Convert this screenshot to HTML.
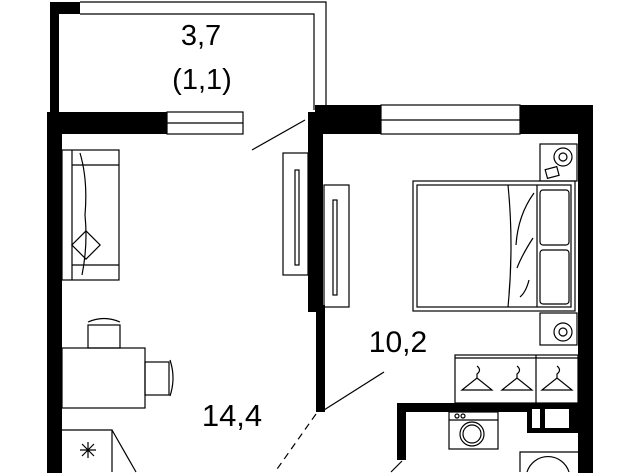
<!DOCTYPE html><html><head><style>html,body{margin:0;padding:0;background:#fff;width:640px;height:473px;overflow:hidden}svg{display:block;overflow:hidden}</style></head><body>
<svg width="640" height="473" viewBox="0 0 640 473" xmlns="http://www.w3.org/2000/svg" font-family="Liberation Sans, sans-serif">
<rect width="640" height="473" fill="#fff"/>
<g fill="#000">
<rect x="50" y="2" width="30" height="12"/>
<rect x="50" y="2" width="9" height="112"/>
<rect x="47" y="112" width="120" height="22"/>
<rect x="47" y="112" width="15" height="361"/>
<rect x="308" y="112" width="15" height="200"/>
<rect x="316" y="305" width="9" height="107"/>
<rect x="315" y="105" width="66" height="29"/>
<rect x="520" y="105" width="73" height="29"/>
<rect x="578" y="105" width="15" height="368"/>
<rect x="397" y="403" width="181" height="9"/>
<rect x="397" y="403" width="9" height="57"/>
<rect x="527" y="403" width="51" height="30"/>
</g>
<g fill="none" stroke="#000" stroke-width="1.2">
<path d="M80 2H326V110 M80 14H314V110"/>
<rect x="167" y="112" width="76" height="22"/><line x1="167" y1="123" x2="243" y2="123"/>
<rect x="381" y="105" width="139" height="29" fill="#fff"/><line x1="381" y1="120" x2="520" y2="120"/>
<line x1="252" y1="150" x2="305" y2="120"/>
<rect x="283" y="153" width="25" height="122"/><rect x="295" y="170" width="4" height="95"/>
<rect x="324" y="185" width="25" height="122"/><rect x="333" y="200" width="4" height="95"/>
<rect x="62" y="150" width="57" height="130"/><line x1="72" y1="150" x2="72" y2="280"/>
<line x1="72" y1="165" x2="119" y2="165"/><line x1="72" y1="265" x2="119" y2="265"/>
<path d="M80 153Q88 180 85 215 M85 215Q88 245 82 275"/>
<rect x="76" y="235" width="20" height="20" transform="rotate(45 86 245)"/>
<rect x="62" y="348" width="83" height="60"/>
<rect x="88" y="325" width="32" height="23"/><path d="M88 322Q104 315 120 322"/>
<rect x="145" y="362" width="24" height="33"/><path d="M170 360Q176 378 170 396"/>
<path d="M62 430H112V472 M112 430L136 472"/>
<path d="M88 442V458 M80 450H96 M82 444L94 456 M94 444L82 456"/>
<line x1="324" y1="410" x2="384" y2="372"/>
<line x1="316" y1="414" x2="275" y2="472" stroke-dasharray="7 5"/>
<line x1="402" y1="461" x2="391" y2="472"/>
<rect x="413" y="181" width="162" height="130"/><rect x="417" y="185" width="154" height="122"/>
<path d="M508 185Q514 245 508 307 M537 185V307"/>
<rect x="540" y="190" width="29" height="55" rx="3"/><rect x="540" y="250" width="29" height="54" rx="3"/>
<path d="M534 193Q518 215 516 245 M533 238Q522 255 517 268 M529 280Q526 292 520 297"/>
<rect x="540" y="144" width="37" height="37"/><circle cx="563" cy="157" r="9"/><circle cx="563" cy="157" r="4"/>
<rect x="546" y="168" width="12" height="9" transform="rotate(-15 552 172)"/>
<rect x="540" y="313" width="37" height="32"/><circle cx="563" cy="332" r="9"/><circle cx="563" cy="332" r="4"/>
<rect x="455" y="355" width="123" height="48"/><line x1="455" y1="358" x2="578" y2="358"/><line x1="536" y1="355" x2="536" y2="403"/>
<path d="M462 390L477 378L492 390Z M477 378V374Q482 370 477 366"/>
<path d="M502 390L517 378L532 390Z M517 378V374Q522 370 517 366"/>
<path d="M542 390L557 378L572 390Z M557 378V374Q562 370 557 366"/>
<rect x="449" y="412" width="49" height="37"/><line x1="449" y1="420" x2="498" y2="420"/>
<circle cx="472" cy="434" r="12"/><circle cx="472" cy="434" r="9"/>
<circle cx="457" cy="416" r="2"/><circle cx="463" cy="416" r="2"/>
<path d="M520 472V452H578"/><path d="M527 472A22 22 0 0 1 569 472"/>
</g>
<rect x="532" y="409" width="8" height="19" fill="#fff"/><rect x="545" y="409" width="24" height="19" fill="#fff"/>
<g fill="#000" text-anchor="middle">
<text x="201" y="45" font-size="29">3,7</text>
<text x="202" y="89" font-size="29">(1,1)</text>
<text x="232" y="426" font-size="31">14,4</text>
<text x="398" y="352" font-size="30">10,2</text>
</g>
</svg>
</body></html>
